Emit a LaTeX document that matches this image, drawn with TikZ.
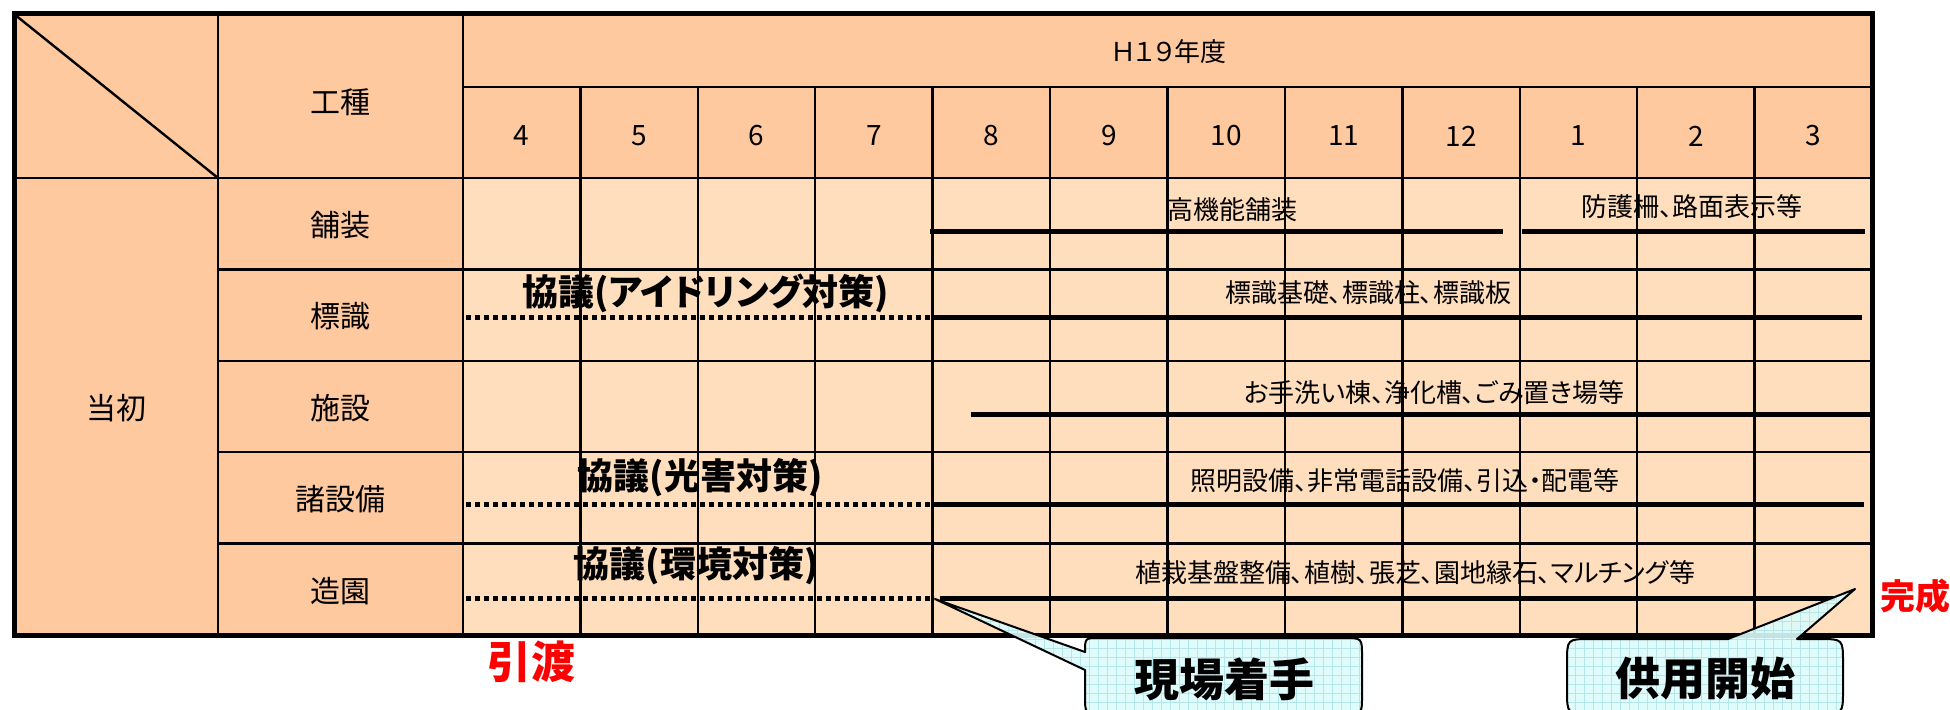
\documentclass[tikz,border=0pt]{standalone}
\usepackage{fontspec}
\setmainfont{Noto Sans CJK JP}[RawFeature={+palt}]
\definecolor{hdr}{HTML}{FFC9A0}
\definecolor{cellc}{HTML}{FFDEBD}
\definecolor{callfill}{HTML}{DDFBFB}
\definecolor{callgrid}{HTML}{B5E6EA}
\tikzset{
  gridline/.style={line width=2.4pt, black},
  border/.style={line width=5pt, black},
  bar/.style={line width=5pt, black},
  dotbar/.style={line width=5pt, black, dash pattern=on 5pt off 4pt},
  lbl/.style={inner sep=0pt, font=\fontsize{30}{32}\selectfont},
  mon/.style={inner sep=0pt, font=\fontsize{28}{30}\selectfont},
  nendostyle/.style={inner sep=0pt, font=\fontsize{26}{28}\selectfont},
  work/.style={inner sep=0pt, font=\fontsize{26}{28}\selectfont},
  kyogi/.style={inner sep=0pt, font=\fontsize{36}{38}\selectfont\bfseries},
  redlbl/.style={inner sep=0pt, text=red, font=\bfseries},
  calltxt/.style={inner sep=0pt, font=\fontsize{45}{47}\selectfont\bfseries},
  callline/.style={line width=2pt, black}
}
\begin{document}
\begin{tikzpicture}[x=1pt,y=-1pt]
\useasboundingbox (0,0) rectangle (1950,709);
% backgrounds
\fill[hdr] (14,14) rectangle (1872,635);
\fill[cellc] (463,178) rectangle (1872,635);
% grid
\draw[gridline] (218,14) -- (218,635);
\draw[gridline] (463,14) -- (463,635);
\foreach \i in {1,...,11} {
  \draw[gridline] ({463+\i*117.417},87) -- ({463+\i*117.417},635);
}
\draw[gridline] (463,87) -- (1872,87);
\draw[gridline] (14,178) -- (1872,178);
\foreach \yy in {269.4,360.8,452.2,543.6} {
  \draw[gridline] (218,\yy) -- (1872,\yy);
}
\draw[gridline] (14,14) -- (218,178);
\draw[border] (14,14) rectangle (1872,635);
% header texts
\node[nendostyle] (nendo) at (1169,52) {Ｈ１９年度};
\node[lbl] (koshu) at (340,102) {工種};
\foreach \m [count=\i from 0] in {4,5,6,7,8,9,10,11,12,1,2,3} {
  \node[mon] (m\i) at ({463+(\i+0.5)*117.417},136) {\m};
}
\node[lbl] (tosho) at (116,408) {当初};
\node[lbl] (r1) at (340,225) {舗装};
\node[lbl] (r2) at (340,316) {標識};
\node[lbl] (r3) at (340,408) {施設};
\node[lbl] (r4) at (340,499) {諸設備};
\node[lbl] (r5) at (340,591) {造園};
% bars
\coordinate (a1) at (930,231); \coordinate (a2) at (1503,231);
\coordinate (b1) at (1522,231); \coordinate (b2) at (1865,231);
\draw[bar] (a1) -- (a2);
\draw[bar] (b1) -- (b2);
\coordinate (c0) at (466,317); \coordinate (c1) at (931,317); \coordinate (c2) at (1862,317);
\draw[dotbar] (c0) -- (c1);
\draw[bar] (c1) -- (c2);
\coordinate (d1) at (971,414); \coordinate (d2) at (1875,414);
\draw[bar] (d1) -- (d2);
\coordinate (e0) at (466,504); \coordinate (e1) at (931,504); \coordinate (e2) at (1864,504);
\draw[dotbar] (e0) -- (e1);
\draw[bar] (e1) -- (e2);
\coordinate (f0) at (466,598); \coordinate (f1) at (934,598);
\coordinate (f2) at (940,598); \coordinate (f3) at (1835,598);
\draw[dotbar] (f0) -- (f1);
\draw[bar] (f2) -- (f3);
% work texts
\node[work] (t1) at (1232,210) {高機能舗装};
\node[work] (t2) at (1692,207) {防護柵、路面表示等};
\node[work] (t3) at (1368,293) {標識基礎、標識柱、標識板};
\node[work] (t4) at (1434,393) {お手洗い棟、浄化槽、ごみ置き場等};
\node[work] (t5) at (1405,481) {照明設備、非常電話設備、引込・配電等};
\node[work] (t6) at (1415,573) {植栽基盤整備、植樹、張芝、園地縁石、マルチング等};
\node[kyogi] (k1) at (706,293) {協議(アイドリング対策)};
\node[kyogi] (k2) at (700,478) {協議(光害対策)};
\node[kyogi] (k3) at (696,566) {協議(環境対策)};
% red labels
\node[redlbl, font=\fontsize{44}{46}\selectfont\bfseries] (hikiwatashi) at (531,662) {引渡};
\node[redlbl, font=\fontsize{35}{37}\selectfont\bfseries] (kansei) at (1915,596) {完成};
% callout 1
\coordinate (tipA) at (935,599);
\def\calloutA{(1085,652) -- (tipA) -- (1085,670) -- (1085,696) .. controls (1085,714) .. (1103,714) -- (1344,714) .. controls (1362,714) .. (1362,696) -- (1362,656) .. controls (1362,638) .. (1344,638) -- (1099,638) .. controls (1085,638) .. (1085,652) -- cycle}
\fill[callfill, fill opacity=0.9] \calloutA;
\begin{scope}
  \clip \calloutA;
  \draw[callgrid, line width=0.6pt] (920,580) grid[step=9pt] (1370,720);
\end{scope}
\draw[callline, line join=round] \calloutA;
\node[calltxt] (genba) at (1224,679) {現場着手};
% callout 2
\coordinate (tipB) at (1855,589);
\def\calloutB{(1728,639) -- (tipB) -- (1797,639) -- (1819,639) .. controls (1843,639) .. (1843,663) -- (1843,690) .. controls (1843,714) .. (1819,714) -- (1591,714) .. controls (1567,714) .. (1567,690) -- (1567,663) .. controls (1567,639) .. (1591,639) -- cycle}
\fill[callfill, fill opacity=0.9] \calloutB;
\begin{scope}
  \clip \calloutB;
  \draw[callgrid, line width=0.6pt] (1560,580) grid[step=9pt] (1860,720);
\end{scope}
\draw[callline, line join=round] \calloutB;
\node[calltxt] (kyoyo) at (1705,679) {供用開始};
\end{tikzpicture}
\end{document}
